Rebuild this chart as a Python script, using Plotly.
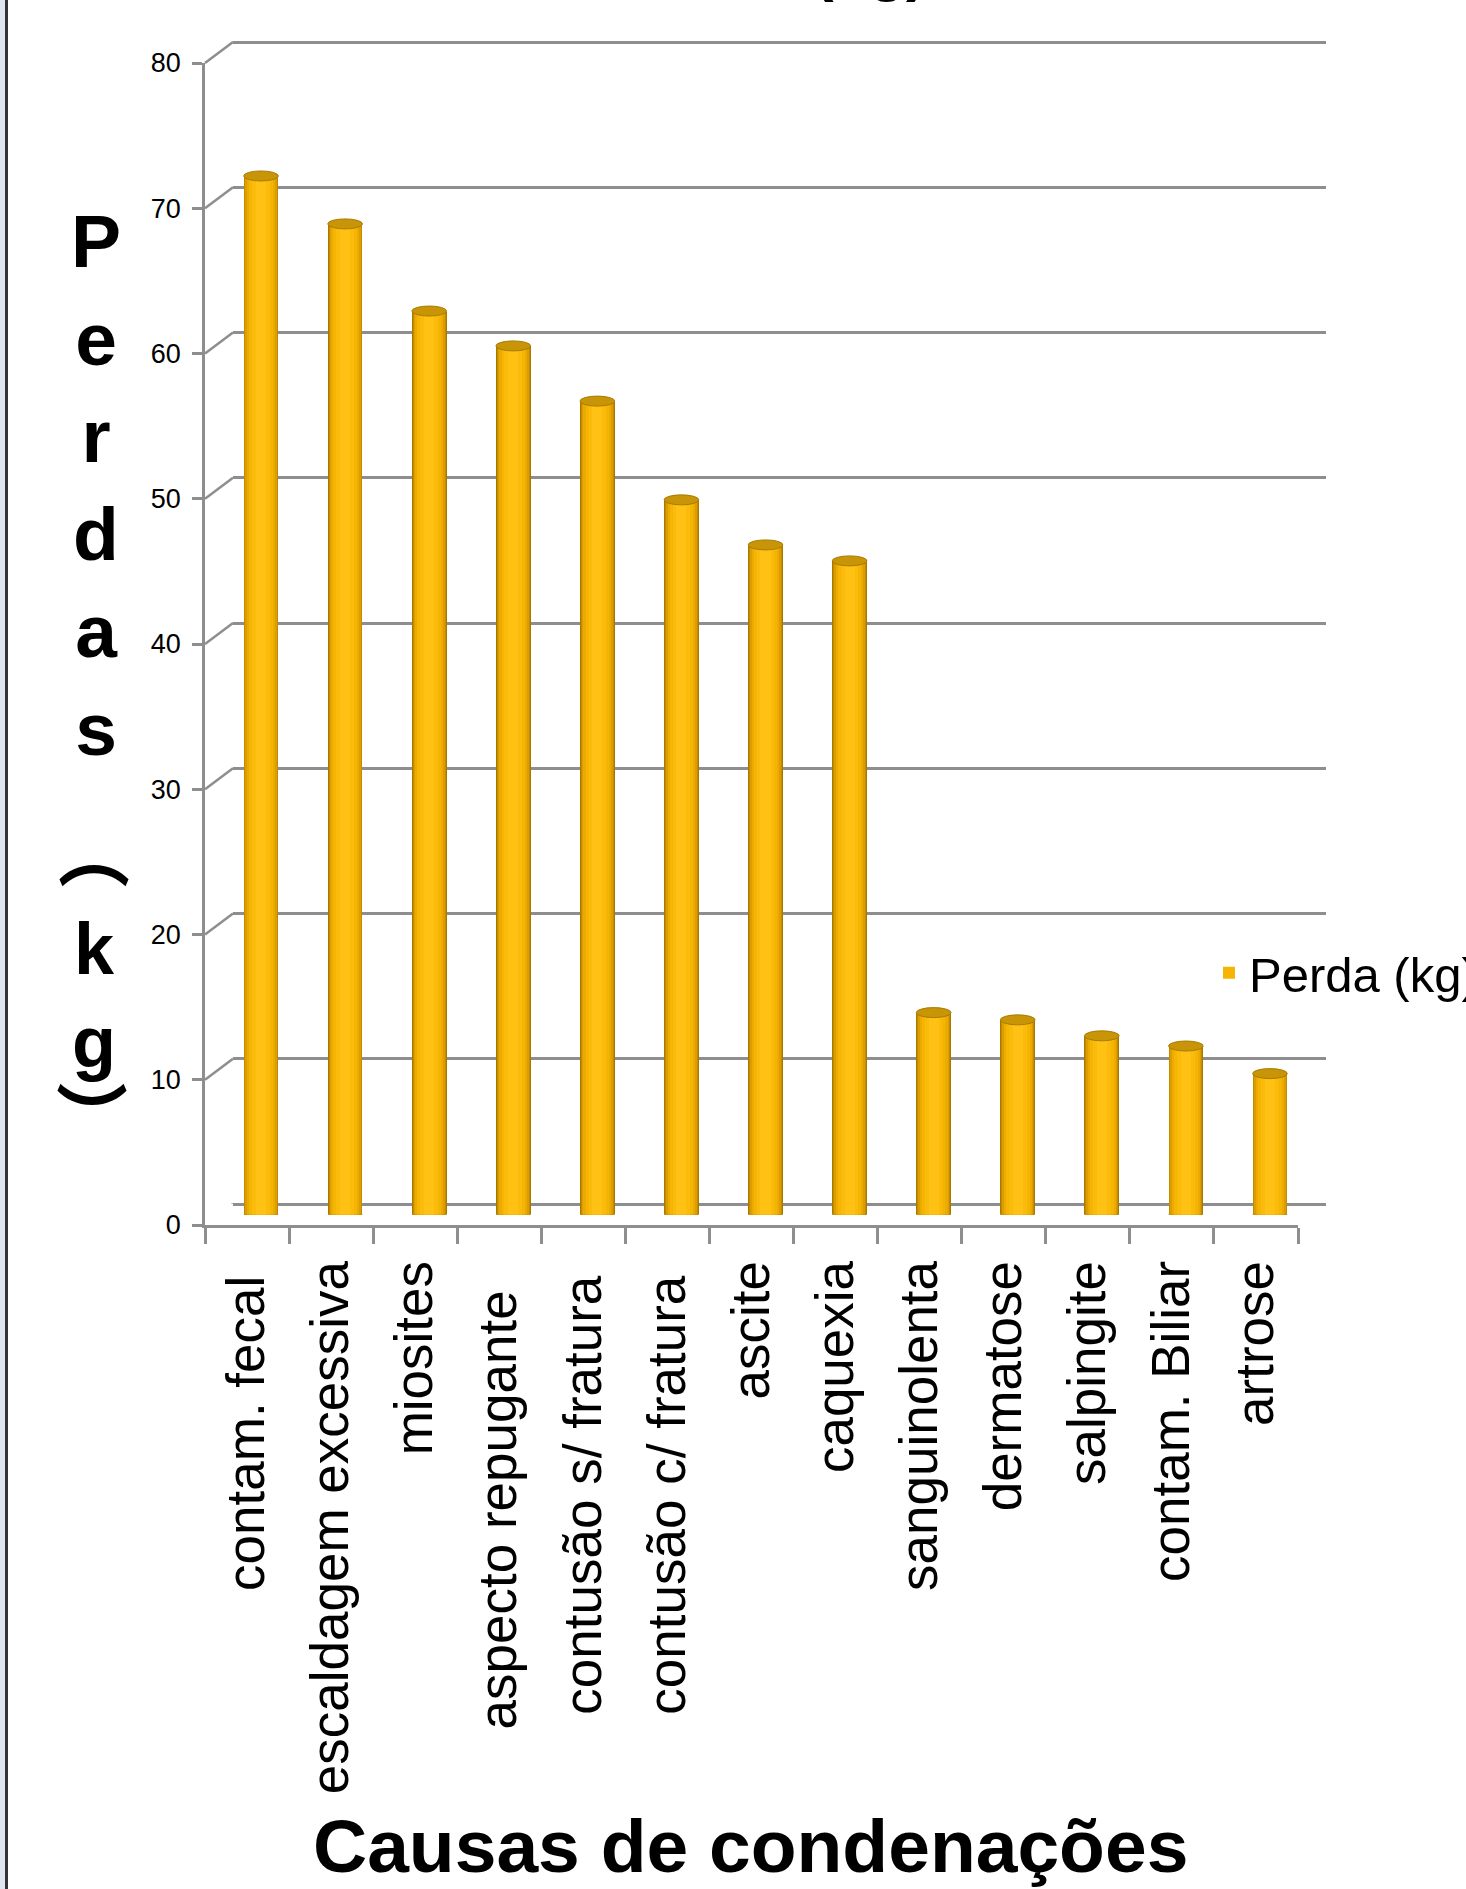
import plotly.graph_objects as go

# ---------------- data ----------------
categories = ["contam. fecal ", "escaldagem excessiva", "miosites", "aspecto repugante  ",
              "contusão s/ fratura ", "contusão c/ fratura ", "ascite", "caquexia",
              "sanguinolenta", "dermatose", "salpingite", "contam. Biliar", "artrose"]
perda_kg = [71.5, 68.2, 62.2, 59.8, 56.0, 49.2, 46.1, 45.0, 13.9, 13.4, 12.3, 11.6, 9.7]
y_ticks = [0, 10, 20, 30, 40, 50, 60, 70, 80]
series_name = "Perda (kg)"
chart_title = "Perdas (kg)"
x_title = "Causas de condenações"
y_title = "Perdas (kg)"

# ---------------- layout helpers ----------------
W, H = 1466, 1889
def fx(p):
    return p / W
def fy(p):
    return 1 - p / H

FONT = "Liberation Sans, Arial, Helvetica, sans-serif"
GRID = "#8e8e8e"
DX, DY = 28, 21          # depth offset front -> back (pixels)

# front plane: x 205..1298, y(0)=1225, y(80)=63
FX0, FX1, FY0, FY80 = 205, 1298, 1225, 63

fig = go.Figure()

# invisible trace so the front (axis) plane is drawn
fig.add_trace(go.Scatter(x=categories, y=perda_kg, mode="markers",
                         marker=dict(opacity=0), showlegend=False, hoverinfo="skip",
                         xaxis="x", yaxis="y"))

# cylinder look: layered bars (outer -> inner)
layers = [(0.413, "#a87800"), (0.395, "#c48a00"), (0.37, "#db9d00"),
          (0.33, "#ecab00"), (0.28, "#f6b504"), (0.21, "#fbbb0b"), (0.12, "#ffc114")]
for k, (w, col) in enumerate(layers):
    fig.add_trace(go.Bar(
        x=categories, y=perda_kg, width=w, name=series_name,
        marker=dict(color=col, line=dict(width=0)),
        showlegend=(k == 4), xaxis="x3", yaxis="y3", hoverinfo="x+y"))

shapes = []
# left border of the slide
shapes.append(dict(type="rect", xref="paper", yref="paper", x0=0, x1=fx(5), y0=0, y1=1,
                   fillcolor="#dde6ee", line=dict(width=0), layer="above"))
shapes.append(dict(type="rect", xref="paper", yref="paper", x0=fx(5), x1=fx(8), y0=0, y1=1,
                   fillcolor="#333333", line=dict(width=0), layer="above"))
# depth connectors at each tick (left wall) and right floor edge
for v in y_ticks:
    shapes.append(dict(type="line", xref="x2 domain", xsizemode="pixel", xanchor=0,
                       x0=-DX, x1=0, yref="y2", ysizemode="pixel", yanchor=v,
                       y0=-DY, y1=0, line=dict(color=GRID, width=2.5)))
shapes.append(dict(type="line", xref="x2 domain", xsizemode="pixel", xanchor=1,
                   x0=-DX, x1=0, yref="y2", ysizemode="pixel", yanchor=0,
                   y0=-DY, y1=0, line=dict(color=GRID, width=2.5)))
# cylinder bottoms and tops
for i, v in enumerate(perda_kg):
    for w, col in layers:
        shapes.append(dict(type="circle", xref="x3", yref="y3", x0=i - w / 2, x1=i + w / 2,
                           ysizemode="pixel", yanchor=0, y0=-5, y1=5,
                           fillcolor=col, line=dict(width=0), layer="below"))
    shapes.append(dict(type="circle", xref="x3", yref="y3", x0=i - 0.2065, x1=i + 0.2065,
                       ysizemode="pixel", yanchor=v, y0=-5, y1=5,
                       fillcolor="#c79507", line=dict(color="#a97c00", width=1), layer="above"))

# stacked vertical y-axis title
letters = [c for c in y_title if c != " "]
main_part = "<br>".join(letters[:6])
paren_part = "<br>".join(["︵", letters[7], letters[8]])
close_part = "︶"
TFONT = "Liberation Sans, Arial, Noto Sans CJK JP, sans-serif"
annotations = [
    dict(text="<b>%s</b>" % main_part, x=fx(96), y=fy(485), xref="paper", yref="paper",
         xanchor="center", yanchor="middle", showarrow=False,
         font=dict(family=TFONT, size=75, color="black")),
    dict(text="<b>%s</b>" % paren_part, x=fx(94), y=fy(948), xref="paper", yref="paper",
         xanchor="center", yanchor="middle", showarrow=False,
         font=dict(family=TFONT, size=72, color="black")),
    dict(text="<b>%s</b>" % close_part, x=fx(92), y=fy(1119), xref="paper", yref="paper",
         xanchor="center", yanchor="middle", showarrow=False,
         font=dict(family=TFONT, size=72, color="black")),
    # chart title (mostly above the visible area)
    dict(text="<b>%s</b>" % chart_title, x=fx(758), y=fy(4), xref="paper", yref="paper",
         xanchor="center", yanchor="bottom", showarrow=False,
         font=dict(family=FONT, size=62, color="black")),
    # x-axis title
    dict(text="<b>%s</b>" % x_title, x=fx(750), y=fy(1846), xref="paper", yref="paper",
         xanchor="center", yanchor="middle", showarrow=False,
         font=dict(family=FONT, size=75, color="black")),
]

fig.update_layout(
    width=W, height=H,
    margin=dict(l=0, r=0, t=0, b=0, pad=0, autoexpand=False),
    paper_bgcolor="white", plot_bgcolor="rgba(0,0,0,0)",
    barmode="overlay", bargap=0,
    font=dict(family=FONT, color="black"),
    showlegend=True,
    legend=dict(x=fx(1209), y=fy(973), xanchor="left", yanchor="middle",
                font=dict(family=FONT, size=49, color="black"),
                bgcolor="rgba(0,0,0,0)", borderwidth=0),
    # front plane axes
    xaxis=dict(domain=[fx(FX0), fx(FX1)], anchor="y", type="category",
               categoryorder="array", categoryarray=categories, range=[-0.5, 12.5],
               tickson="boundaries", ticks="outside", ticklen=16, tickwidth=2.5,
               tickcolor=GRID, showline=True, linecolor=GRID, linewidth=2.5,
               showgrid=False, tickangle=-90, ticklabelstandoff=12,
               tickfont=dict(family=FONT, size=53, color="black")),
    yaxis=dict(domain=[fy(FY0), fy(FY80)], anchor="x", range=[0, 80],
               tickvals=y_ticks, ticks="outside", ticklen=10, tickwidth=2.5,
               tickcolor=GRID, showline=True, linecolor=GRID, linewidth=2.5,
               showgrid=False, zeroline=False, ticklabelstandoff=6,
               tickfont=dict(family=FONT, size=27, color="black")),
    # back wall (gridlines)
    xaxis2=dict(domain=[fx(FX0 + DX), fx(FX1 + DX)], anchor="y2", visible=False,
                range=[0, 1]),
    yaxis2=dict(domain=[fy(FY0 - DY), fy(FY80 - DY - 1)], anchor="x2", range=[0, 80.07],
                tickvals=y_ticks, showgrid=True, gridcolor=GRID, gridwidth=2.5,
                zeroline=True, zerolinecolor=GRID, zerolinewidth=2.5,
                showticklabels=False, ticks="", showline=False),
    # mid plane (bars)
    xaxis3=dict(domain=[fx(FX0 + DX / 2), fx(FX1 + DX / 2)], anchor="y3", visible=False,
                type="category", categoryorder="array", categoryarray=categories,
                range=[-0.5, 12.5]),
    yaxis3=dict(domain=[fy(FY0 - DY / 2), fy(FY80 - DY / 2)], anchor="x3", visible=False,
                range=[0, 80]),
    shapes=shapes,
    annotations=annotations,
)

fig.write_html("out.html")
